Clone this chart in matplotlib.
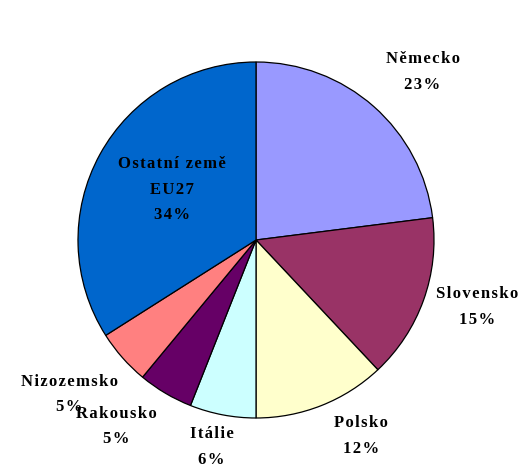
import numpy as np
import matplotlib.pyplot as plt

countries = ['Německo', 'Slovensko', 'Polsko', 'Itálie', 'Rakousko',
             'Nizozemsko', 'Ostatní země\nEU27']
shares = [23, 15, 12, 6, 5, 5, 34]
colors = ['#9999FF', '#993366', '#FFFFCC', '#CCFFFF', '#660066',
          '#FF8080', '#0066CC']

# label placement: radius and angle nudge (degrees) for each slice
label_r = [1.33, 1.30, 1.25, 1.19, 1.31, 1.36, 0.55]
label_da = [-3.3, 2.9, 6.5, -1.3, -6.3, -1.8, -2.0]

plt.rcParams['font.family'] = ['Liberation Serif', 'DejaVu Serif']


def spaced(s):
    # mimic the wide letter spacing of the original labels
    return '\n'.join('\u200a'.join(line) for line in s.split('\n'))


fig = plt.figure(figsize=(5.24, 4.68), dpi=100)
ax = fig.add_axes([0, 0, 1, 1])

wedges, _ = ax.pie(shares, colors=colors, startangle=90, counterclock=False,
                   radius=1.0, wedgeprops=dict(edgecolor='black', linewidth=0.9))

for w, name, val, r, da in zip(wedges, countries, shares, label_r, label_da):
    ang = np.deg2rad((w.theta1 + w.theta2) / 2 + da)
    ax.text(r * np.cos(ang), r * np.sin(ang), spaced(f'{name}\n{val}%'),
            ha='center', va='center', fontsize=12, fontweight='bold',
            linespacing=1.8, color='black')

ax.set_xlim(-256 / 178, (524 - 256) / 178)
ax.set_ylim(-(468 - 240) / 178, 240 / 178)
ax.set_aspect('equal')
ax.axis('off')

fig.savefig('out.png', dpi=100)
